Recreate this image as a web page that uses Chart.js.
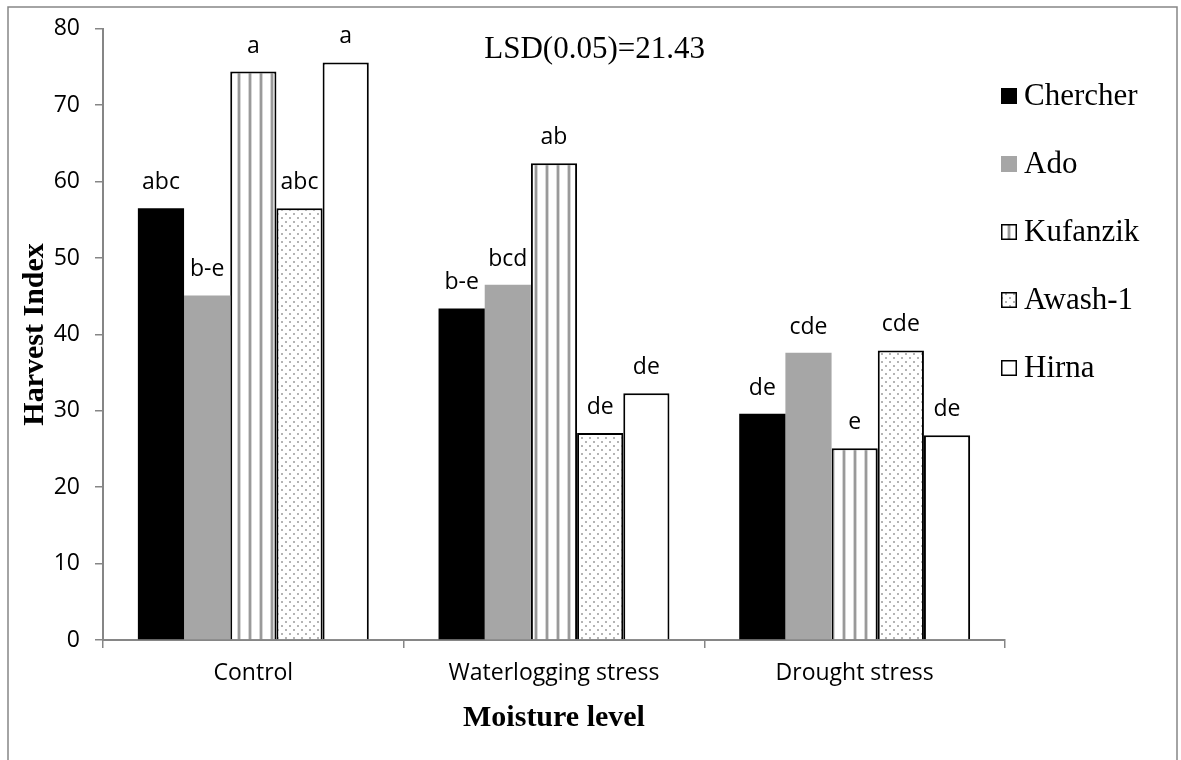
<!DOCTYPE html>
<html>
<head>
<meta charset="utf-8">
<script src="https://cdn.jsdelivr.net/npm/chart.js@4.4.1/dist/chart.umd.min.js"></script>
<style>
  html, body { margin: 0; padding: 0; background: #fff; }
  canvas { display: block; }
</style>
</head>
<body>
<canvas id="myChart" width="1181" height="760"></canvas>
<script>
// data
const categories = ['Control', 'Waterlogging stress', 'Drought stress'];
const chercher = [56.5, 43.4, 29.6];
const ado = [45.1, 46.5, 37.6];
const kufanzik = [74.4, 62.4, 25.1];
const awash1 = [56.5, 27.1, 37.9];
const hirna = [75.6, 32.3, 26.8];

// mean separation letters above each bar
const chercherLetters = ['abc', 'b-e', 'de'];
const adoLetters = ['b-e', 'bcd', 'cde'];
const kufanzikLetters = ['a', 'ab', 'e'];
const awash1Letters = ['abc', 'de', 'cde'];
const hirnaLetters = ['a', 'de', 'de'];

const yTicks = [0, 10, 20, 30, 40, 50, 60, 70, 80];
const lsdText = 'LSD(0.05)=21.43';

const AXIS_GRAY = '#868686';
const SANS = '"Open Sans", "DejaVu Sans", sans-serif';
const SERIF = '"Liberation Serif", "Times New Roman", serif';

// fill patterns
function makeStripes() {
  const c = document.createElement('canvas');
  c.width = 11; c.height = 4;
  const g = c.getContext('2d');
  g.fillStyle = '#fff'; g.fillRect(0, 0, 11, 4);
  g.fillStyle = '#d6d6d6'; g.fillRect(6, 0, 1, 4); g.fillRect(9, 0, 1, 4);
  g.fillStyle = '#9a9a9a'; g.fillRect(7, 0, 2, 4);
  return g.createPattern(c, 'repeat');
}
function makeDots() {
  const c = document.createElement('canvas');
  c.width = 8; c.height = 8;
  const g = c.getContext('2d');
  g.fillStyle = '#fff'; g.fillRect(0, 0, 8, 8);
  g.fillStyle = '#b4b4b4';
  g.fillRect(1, 1, 2, 2);
  g.fillRect(5, 5, 2, 2);
  return g.createPattern(c, 'repeat');
}

const stripePattern = makeStripes();
const dotPattern = makeDots();

const datasets = [
  { label: 'Chercher', data: chercher, letters: chercherLetters,
    backgroundColor: '#000000', borderColor: '#000000', borderWidth: 0 },
  { label: 'Ado', data: ado, letters: adoLetters,
    backgroundColor: '#a6a6a6', borderColor: '#a6a6a6', borderWidth: 0 },
  { label: 'Kufanzik', data: kufanzik, letters: kufanzikLetters,
    backgroundColor: stripePattern, borderColor: '#000000', borderWidth: 2 },
  { label: 'Awash-1', data: awash1, letters: awash1Letters,
    backgroundColor: dotPattern, borderColor: '#000000', borderWidth: 2 },
  { label: 'Hirna', data: hirna, letters: hirnaLetters,
    backgroundColor: '#ffffff', borderColor: '#000000', borderWidth: 2 }
];

// letters over the bars
const letterPlugin = {
  id: 'letters',
  afterDatasetsDraw(chart) {
    const ctx = chart.ctx;
    ctx.save();
    ctx.font = '23px ' + SANS;
    ctx.fillStyle = '#000';
    ctx.textAlign = 'center';
    ctx.textBaseline = 'alphabetic';
    chart.data.datasets.forEach((ds, i) => {
      chart.getDatasetMeta(i).data.forEach((bar, j) => {
        ctx.fillText(ds.letters[j], bar.x, bar.y - 19);
      });
    });
    ctx.restore();
  }
};

// legend on the right, LSD note and the outer frame
const extrasPlugin = {
  id: 'extras',
  afterDraw(chart) {
    const ctx = chart.ctx;
    const area = chart.chartArea;
    ctx.save();

    ctx.strokeStyle = AXIS_GRAY;
    ctx.lineWidth = 1.5;
    ctx.strokeRect(8, 7, chart.width - 12, chart.height + 10);

    ctx.font = '31px ' + SERIF;
    ctx.fillStyle = '#000';
    ctx.textAlign = 'center';
    ctx.textBaseline = 'middle';
    ctx.fillText(lsdText, area.left + (area.right - area.left) * 0.545, 50);

    const boxX = area.right - 4;
    let y = 96;
    ctx.textAlign = 'left';
    chart.data.datasets.forEach(ds => {
      ctx.fillStyle = ds.backgroundColor;
      ctx.fillRect(boxX, y - 8, 16, 16);
      if (ds.borderWidth) {
        ctx.strokeStyle = '#000';
        ctx.lineWidth = 1.5;
        ctx.strokeRect(boxX + 0.75, y - 7.25, 14.5, 14.5);
      }
      ctx.fillStyle = '#000';
      ctx.fillText(ds.label, boxX + 23, y + 1);
      y += 68;
    });
    ctx.restore();
  }
};

const config = {
  type: 'bar',
  data: { labels: categories, datasets: datasets },
  options: {
    responsive: false,
    animation: false,
    devicePixelRatio: 1,
    layout: { padding: { top: 25, right: 176, left: 0, bottom: 0 } },
    datasets: {
      bar: { categoryPercentage: 0.768, barPercentage: 1, borderSkipped: 'start' }
    },
    plugins: {
      legend: { display: false },
      tooltip: { enabled: false }
    },
    scales: {
      x: {
        type: 'category',
        afterFit: s => { s.height = 120; },
        grid: { display: true, drawOnChartArea: false, offset: true,
                tickLength: 8, color: AXIS_GRAY, lineWidth: 1.5 },
        border: { display: true, color: AXIS_GRAY, width: 2 },
        ticks: { color: '#000', font: { family: SANS, size: 23 }, padding: 12, maxRotation: 0 },
        title: { display: true, text: 'Moisture level', color: '#000',
                 font: { family: SERIF, size: 30, weight: 'bold' },
                 padding: { top: 0, bottom: 24 } }
      },
      y: {
        min: 0, max: 80,
        afterFit: s => { s.width = 103; },
        afterBuildTicks: s => { s.ticks = yTicks.map(v => ({ value: v })); },
        grid: { display: true, drawOnChartArea: false,
                tickLength: 8, color: AXIS_GRAY, lineWidth: 1.5 },
        border: { display: true, color: AXIS_GRAY, width: 2 },
        ticks: { color: '#000', font: { family: SANS, size: 23 }, padding: 15 },
        title: { display: true, text: 'Harvest Index', color: '#000',
                 font: { family: SERIF, size: 30, weight: 'bold' },
                 padding: { top: 17, bottom: 0 } }
      }
    }
  },
  plugins: [letterPlugin, extrasPlugin]
};

const myChart = new Chart(document.getElementById('myChart'), config);
</script>
</body>
</html>
